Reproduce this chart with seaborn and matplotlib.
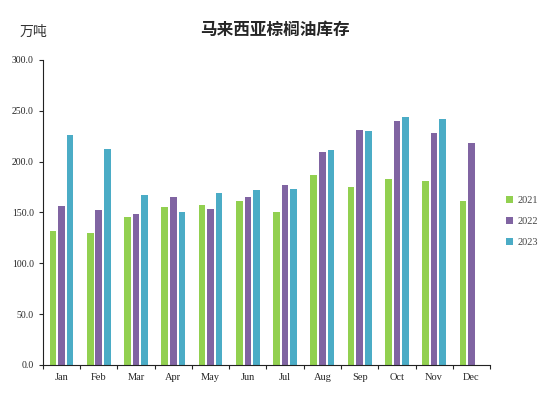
import pandas as pd
import matplotlib.pyplot as plt
import matplotlib.ticker as mticker
import seaborn as sns
import numpy as np

sns.set_style("ticks")
plt.rcParams['font.family'] = ['Liberation Serif', 'Noto Sans CJK SC']

months = ['Jan', 'Feb', 'Mar', 'Apr', 'May', 'Jun',
          'Jul', 'Aug', 'Sep', 'Oct', 'Nov', 'Dec']
years = ['2021', '2022', '2023']
stock_2021 = [132, 130, 145, 155, 157, 161, 150, 187, 174.5, 182.5, 181, 161]
stock_2022 = [156, 152, 148, 165, 153, 165, 176.5, 209, 231, 240, 228, 218.5]
stock_2023 = [226, 212, 167, 150, 169, 172, 172.5, 211, 230.5, 244, 242, np.nan]
palette = ['#92D050', '#8064A2', '#4BACC6']

df = pd.DataFrame({'month': months * 3,
                   'year': sum([[y] * 12 for y in years], []),
                   'value': stock_2021 + stock_2022 + stock_2023})

fig = plt.figure(figsize=(5.5, 3.94), dpi=100)
ax = fig.add_axes([0.078, 0.074, 0.813, 0.774])

sns.barplot(data=df, x='month', y='value', hue='year', palette=palette,
            width=0.69, gap=0.22, saturation=1, linewidth=0,
            ax=ax, legend=True)

ax.set_ylim(0, 300)
ax.set_xlim(-0.5, 11.5)
ax.yaxis.set_major_locator(mticker.MultipleLocator(50))
ax.yaxis.set_major_formatter(mticker.FormatStrFormatter('%.1f'))
ax.xaxis.set_minor_locator(mticker.FixedLocator(np.arange(-0.5, 12, 1)))
ax.tick_params(axis='x', which='major', length=0, labelsize=7.5, pad=6)
ax.tick_params(axis='x', which='minor', length=3, width=0.8)
ax.tick_params(axis='y', length=3, width=0.8, labelsize=7)
ax.set_xlabel('')
ax.set_ylabel('')
sns.despine(ax=ax)
for s in ['left', 'bottom']:
    ax.spines[s].set_linewidth(0.8)
    ax.spines[s].set_color('#222222')

leg = ax.legend(loc='center left', bbox_to_anchor=(1.015, 0.47), frameon=False,
                fontsize=7.5, handlelength=0.7, handleheight=0.7,
                handletextpad=0.4, labelspacing=1.1)
for t in leg.get_texts():
    t.set_color('#444444')

fig.text(0.5, 0.925, '马来西亚棕榈油库存', ha='center', va='center',
         fontsize=12, fontweight='bold', family=['Noto Sans CJK SC'])
fig.text(0.035, 0.918, '万吨', ha='left', va='center', fontsize=10,
         family=['Noto Sans CJK SC'], color='#333333')

plt.savefig('out.png', dpi=100)
